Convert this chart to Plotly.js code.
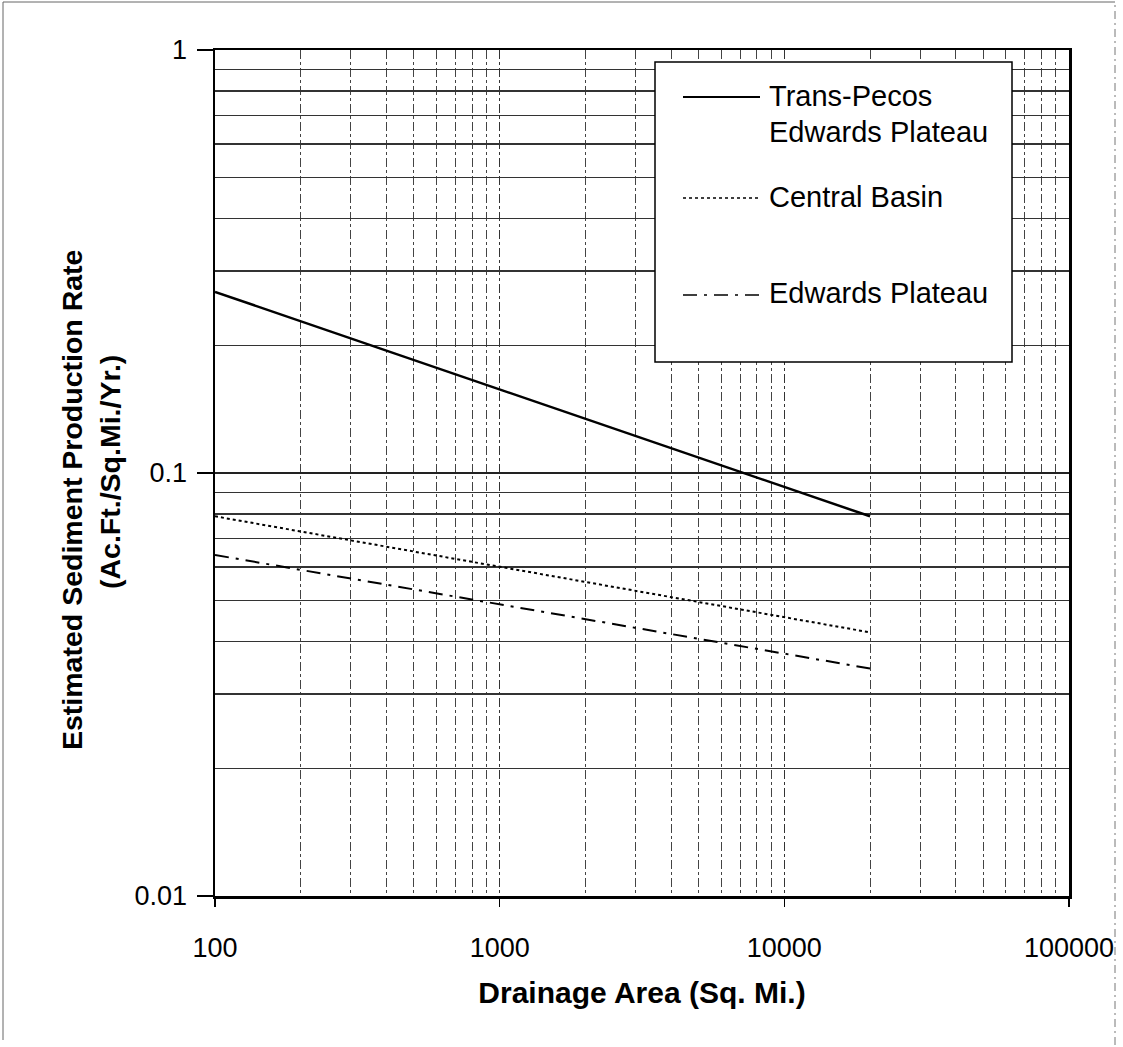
<!DOCTYPE html>
<html>
<head>
<meta charset="utf-8">
<script src="https://cdn.plot.ly/plotly-3.0.1.min.js"></script>
<style>
html,body{margin:0;padding:0;background:#fff;}
#chart{width:1123px;height:1047px;}
</style>
</head>
<body>
<div id="chart"></div>
<script>
// Data (log-log straight lines)
const drainageArea = [100, 20000];
const transPecos = [0.268, 0.079];
const centralBasin = [0.079, 0.042];
const edwardsPlateau = [0.064, 0.0345];

const seriesNames = ["Trans-Pecos Edwards Plateau", "Central Basin", "Edwards Plateau"];
const legendLabelLines = [["Trans-Pecos", "Edwards Plateau"], ["Central Basin"], ["Edwards Plateau"]];
const xTickVals = [100, 1000, 10000, 100000];
const xTickText = ["100", "1000", "10000", "100000"];
const yTickVals = [0.01, 0.1, 1];
const yTickText = ["0.01", "0.1", "1"];
const yTitleLines = ["Estimated Sediment Production Rate", "(Ac.Ft./Sq.Mi./Yr.)"];
const xTitle = "Drainage Area (Sq. Mi.)";

const FONT = "Liberation Sans, Arial, sans-serif";
const DASHES = ["solid", "dot", "14px,7px,3px,7px"];

const traces = [
  {x: drainageArea, y: transPecos, name: seriesNames[0], mode: "lines",
   line: {color: "#000", width: 2.5, dash: DASHES[0]}},
  {x: drainageArea, y: centralBasin, name: seriesNames[1], mode: "lines",
   line: {color: "#000", width: 2, dash: DASHES[1]}},
  {x: drainageArea, y: edwardsPlateau, name: seriesNames[2], mode: "lines",
   line: {color: "#000", width: 2, dash: DASHES[2]}}
];

// plot area in px: left 215, right 1069, top 50, bottom 896
const PL = 215, PW = 854, PB = 896, PH = 846;
const px = v => (v - PL) / PW;
const py = v => (PB - v) / PH;

// Manual legend
const shapes = [
  {type: "rect", xref: "paper", yref: "paper",
   x0: px(655), x1: px(1012), y0: py(362), y1: py(62),
   line: {color: "#000", width: 1.5}, fillcolor: "#fff", layer: "above"},
  // outer page frame
  {type: "line", xref: "paper", yref: "paper", x0: px(3), x1: px(3), y0: py(1040), y1: py(2),
   line: {color: "#666", width: 1}},
  {type: "line", xref: "paper", yref: "paper", x0: px(3), x1: px(1115), y0: py(2), y1: py(2),
   line: {color: "#666", width: 1}},
  {type: "line", xref: "paper", yref: "paper", x0: px(1115), x1: px(1115), y0: py(1045), y1: py(2),
   line: {color: "#777", width: 1, dash: "8px,4px,2px,4px"}}
];
const sampleY = [97, 198, 295];
const sampleW = [2, 1.5, 1.5];
sampleY.forEach((sy, i) => {
  shapes.push({type: "line", xref: "paper", yref: "paper",
    x0: px(683), x1: px(760), y0: py(sy), y1: py(sy),
    line: {color: "#000", width: sampleW[i], dash: DASHES[i]}, layer: "above"});
});
const textY = [[96, 132], [197], [293]];
const annotations = [];
legendLabelLines.forEach((lines, i) => {
  lines.forEach((t, j) => {
    annotations.push({xref: "paper", yref: "paper", x: px(767), y: py(textY[i][j]),
      xanchor: "left", yanchor: "middle", align: "left", text: t,
      showarrow: false, font: {family: FONT, size: 29, color: "#000"}});
  });
});
// y-axis title as two rotated lines
const yTitleX = [72, 110];
const yTitleY = [500, 472];
yTitleLines.forEach((t, i) => {
  annotations.push({xref: "paper", yref: "paper", x: px(yTitleX[i]), y: py(yTitleY[i]),
    xanchor: "center", yanchor: "middle", textangle: -90, text: "<b>" + t + "</b>",
    showarrow: false, font: {family: FONT, size: 28.5, color: "#000"}});
});

const layout = {
  width: 1123, height: 1047,
  margin: {l: 215, r: 54, t: 50, b: 151},
  paper_bgcolor: "#fff", plot_bgcolor: "#fff",
  showlegend: false,
  font: {family: FONT, size: 27, color: "#000"},
  xaxis: {
    type: "log", range: [2, 5],
    tickvals: xTickVals, ticktext: xTickText,
    ticks: "outside", ticklen: 8, tickcolor: "#000", tickwidth: 1.5,
    ticklabelstandoff: 18,
    showline: true, linecolor: "#000", linewidth: 2.5, mirror: true,
    showgrid: true, gridcolor: "#333", gridwidth: 1, griddash: "dashdot",
    minor: {dtick: "D1", showgrid: true, gridcolor: "#444", gridwidth: 1, griddash: "dashdot", ticks: ""},
    zeroline: false,
    tickfont: {family: FONT, size: 27},
    title: {text: "<b>" + xTitle + "</b>", font: {family: FONT, size: 30}, standoff: 20}
  },
  yaxis: {
    type: "log", range: [-2, 0],
    tickvals: yTickVals, ticktext: yTickText,
    ticks: "outside", ticklen: 16, tickcolor: "#000", tickwidth: 1.5,
    ticklabelstandoff: 4,
    showline: true, linecolor: "#000", linewidth: 2.5, mirror: true,
    showgrid: true, gridcolor: "#222", gridwidth: 1.4,
    minor: {dtick: "D1", showgrid: true, gridcolor: "#333", gridwidth: 1.4, ticks: ""},
    zeroline: false,
    tickfont: {family: FONT, size: 27}
  },
  shapes: shapes,
  annotations: annotations
};

Plotly.newPlot("chart", traces, layout, {staticPlot: true, displayModeBar: false});
</script>
</body>
</html>
